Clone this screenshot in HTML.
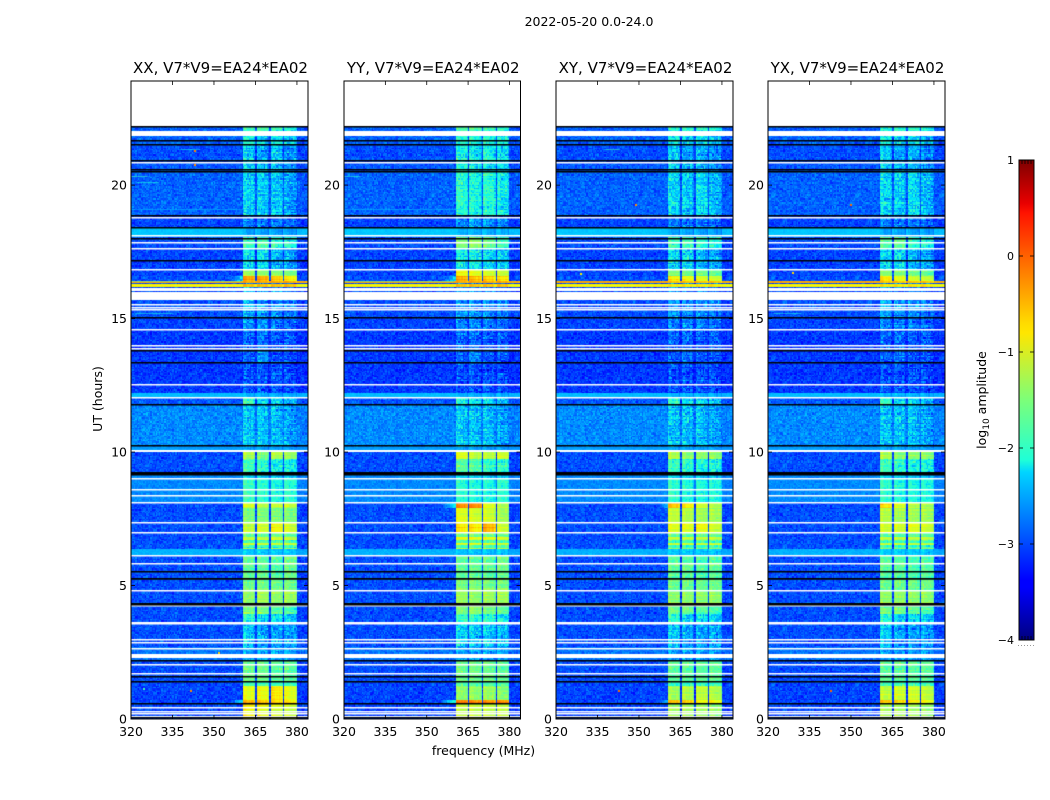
<!DOCTYPE html>
<html lang="en">
<head>
<meta charset="utf-8">
<title>2022-05-20 waterfall</title>
<style>
html,body{margin:0;padding:0;background:#fff;}
#stage{position:relative;width:1050px;height:800px;overflow:hidden;background:#fff;}
canvas{position:absolute;display:block;}
svg{position:absolute;left:0;top:0;}
text{font-family:"DejaVu Sans","Liberation Sans",sans-serif;fill:#000;}
</style>
</head>
<body>
<div id="stage">
<svg id="overlay" width="1050" height="800" viewBox="0 0 1050 800" xmlns="http://www.w3.org/2000/svg">
<defs><linearGradient id="jetGrad" x1="0" y1="1" x2="0" y2="0">
<stop offset="0" stop-color="#00007f"/><stop offset="0.11" stop-color="#0000ff"/><stop offset="0.125" stop-color="#0000ff"/><stop offset="0.35" stop-color="#00d5ff"/><stop offset="0.375" stop-color="#1fffd7"/><stop offset="0.5" stop-color="#7cff79"/><stop offset="0.64" stop-color="#ffe600"/><stop offset="0.66" stop-color="#ffdb00"/><stop offset="0.89" stop-color="#ff1300"/><stop offset="0.91" stop-color="#e80000"/><stop offset="1" stop-color="#7f0000"/>
</linearGradient></defs>
</svg>
</div>
<script>
const panelTitles = ["XX, V7*V9=EA24*EA02","YY, V7*V9=EA24*EA02","XY, V7*V9=EA24*EA02","YX, V7*V9=EA24*EA02"];
const freqTicks = [320,335,350,365,380];
const hourTicks = [0,5,10,15,20];
const colorTicks = [1,0,-1,-2,-3,-4];
const bandStartMHz = [360.5,365.5,370.5,375.5];
const bandEndMHz = [365,370,375,380];
const segTopHours = [22.2,21.85,21.5,20.9,20.5,18.85,18.4,18.05,17.6,16.85,16.6,16.4,16.35,16.3,16.18,15.3,15.05,14.57,13.8,13.35,12.2,12.05,11.8,10.22,10.05,9.75,9.24,9.0,8.1,7.9,7.37,6.96,6.8,6.7,6.6,6.5,6.4,6.33,6.1,5.27,4.82,4.26,3.95,3.62,2.7,2.2,1.4,1.25,0.72,0.56];
const backgroundLevel = [-2.9,-2.9,-3.0,-2.95,-2.9,-3.05,-2.4,-3.0,-3.05,-3.05,-3.0,-0.35,-3.0,-0.75,-3.0,-3.0,-3.05,-3.1,-3.1,-3.1,-2.45,-2.95,-2.7,-2.6,-3.0,-3.0,-2.7,-2.7,-3.0,-3.0,-3.0,-3.0,-3.0,-3.0,-3.0,-3.0,-3.0,-2.5,-3.0,-3.0,-3.0,-3.0,-3.0,-3.0,-2.8,-3.0,-3.05,-3.05,-3.05,-3.05];
const segNoise = [1,1,1,1,1,1,0.25,1,1,1,1,0.2,1,0.2,1,1,1,1,1,1,0.25,1,1,0.3,1,1,0.5,0.6,1,1,1,1,1,1,1,1,1,0.35,1,1,1,1,1,1,0.8,1,1,1,1,1];
const bandXX = [
[-1.9,-1.8,-2.0,-2.1],[-2.1,-2.4,-2.2,-2.4],[-2.4,-2.6,-2.4,-2.7],[-2.4,-2.5,-2.5,-2.7],[-2.35,-2.4,-2.4,-2.6],
[-2.8,-2.8,-2.8,-2.9],[-2.6,-2.6,-2.6,-2.6],[-1.9,-1.8,-2.0,-2.1],[-2.3,-2.3,-2.5,-2.6],[-1.3,-1.4,-1.4,-1.5],
[-0.3,-0.35,-0.5,-0.7],[-0.4,-0.4,-0.4,-0.4],[-2.8,-2.8,-2.8,-2.8],[-0.5,-0.5,-0.5,-0.5],[-2.5,-2.7,-2.7,-2.8],
[-2.6,-2.6,-2.7,-2.8],[-2.7,-2.7,-2.8,-2.9],[-2.9,-2.85,-2.95,-2.95],[-2.95,-2.65,-3.0,-3.0],[-3.0,-3.0,-3.0,-3.05],
[-2.5,-2.5,-2.5,-2.5],[-1.9,-2.3,-2.3,-2.5],[-2.4,-2.45,-2.45,-2.6],[-2.6,-2.6,-2.6,-2.6],[-1.2,-1.5,-1.2,-1.3],
[-1.9,-2.0,-2.2,-2.2],[-2.3,-2.3,-2.4,-2.4],[-1.9,-2.0,-2.1,-2.0],[-1.0,-1.2,-1.1,-1.1],[-1.5,-1.5,-1.5,-1.5],
[-1.1,-1.0,-0.8,-1.0],[-1.7,-1.7,-1.7,-1.7],[-1.0,-1.0,-0.9,-1.0],[-1.9,-1.9,-1.9,-1.9],[-1.0,-1.0,-1.0,-1.0],
[-1.9,-1.9,-1.9,-1.9],[-1.3,-1.3,-1.3,-1.3],[-2.4,-2.4,-2.4,-2.4],[-1.7,-1.7,-1.8,-1.6],[-1.6,-1.6,-1.6,-1.6],
[-1.4,-1.3,-1.4,-1.3],[-1.5,-1.5,-1.7,-1.8],[-2.0,-2.3,-2.3,-2.4],[-2.4,-2.6,-2.6,-2.6],[-2.6,-2.6,-2.6,-2.6],
[-1.6,-1.6,-1.7,-1.7],[-1.9,-1.9,-1.9,-1.9],[-0.9,-0.85,-0.7,-0.9],[-0.3,-0.4,-0.5,-0.6],[-0.8,-0.9,-1.0,-1.1]];
const bandYY = [
[-1.8,-1.8,-1.9,-2.0],[-2.0,-2.1,-2.1,-2.2],[-2.1,-2.2,-2.1,-2.3],[-2.1,-2.2,-2.2,-2.3],[-2.0,-2.1,-2.0,-2.2],
[-2.7,-2.6,-2.7,-2.8],[-2.5,-2.5,-2.5,-2.5],[-1.5,-1.4,-1.6,-1.9],[-2.2,-2.2,-2.3,-2.4],[-0.8,-0.9,-1.0,-1.1],
[-0.3,-0.4,-0.5,-0.6],[-0.4,-0.4,-0.4,-0.4],[-2.8,-2.8,-2.8,-2.8],[-0.5,-0.5,-0.5,-0.5],[-2.6,-2.7,-2.7,-2.8],
[-2.6,-2.6,-2.7,-2.8],[-2.75,-2.75,-2.8,-2.9],[-2.9,-2.9,-2.95,-2.95],[-2.95,-2.75,-3.0,-3.0],[-3.0,-3.0,-3.0,-3.05],
[-2.5,-2.5,-2.5,-2.5],[-2.0,-2.2,-2.3,-2.5],[-2.4,-2.45,-2.45,-2.6],[-2.6,-2.6,-2.6,-2.6],[-0.9,-1.1,-1.1,-1.0],
[-1.7,-1.8,-2.0,-2.0],[-2.3,-2.3,-2.4,-2.4],[-2.0,-2.1,-2.1,-2.0],[-0.2,-0.2,-0.9,-1.2],[-0.9,-1.0,-1.0,-1.3],
[-0.7,-0.7,-0.4,-1.0],[-1.6,-1.6,-1.6,-1.6],[-0.9,-0.9,-0.9,-1.0],[-1.8,-1.8,-1.8,-1.8],[-0.9,-0.9,-0.9,-1.0],
[-1.8,-1.8,-1.8,-1.8],[-1.2,-1.2,-1.2,-1.2],[-2.4,-2.4,-2.4,-2.4],[-1.7,-1.7,-1.7,-1.6],[-1.5,-1.5,-1.5,-1.5],
[-1.3,-1.4,-1.3,-1.3],[-1.5,-1.4,-1.5,-1.6],[-1.9,-2.0,-2.0,-2.2],[-2.3,-2.4,-2.4,-2.5],[-2.6,-2.6,-2.6,-2.6],
[-1.6,-1.6,-1.6,-1.7],[-1.8,-1.8,-1.8,-1.8],[-1.4,-1.4,-1.3,-1.4],[-0.1,-0.15,-0.2,-0.2],[-1.1,-1.1,-1.1,-1.1]];
const bandXY = [
[-2.0,-1.9,-2.0,-2.1],[-2.2,-2.4,-2.3,-2.5],[-2.4,-2.6,-2.5,-2.7],[-2.4,-2.5,-2.5,-2.7],[-2.3,-2.4,-2.3,-2.5],
[-2.8,-2.8,-2.8,-2.9],[-2.6,-2.6,-2.6,-2.6],[-1.9,-1.9,-2.0,-2.1],[-2.3,-2.3,-2.5,-2.6],[-1.5,-1.6,-1.6,-1.7],
[-0.7,-0.8,-0.9,-1.0],[-0.5,-0.5,-0.5,-0.5],[-2.8,-2.8,-2.8,-2.8],[-0.7,-0.7,-0.7,-0.7],[-2.6,-2.7,-2.7,-2.8],
[-2.6,-2.7,-2.7,-2.8],[-2.8,-2.8,-2.8,-2.9],[-2.9,-2.9,-2.95,-2.95],[-2.95,-2.85,-3.0,-3.0],[-3.0,-3.0,-3.0,-3.05],
[-2.5,-2.5,-2.5,-2.5],[-2.0,-2.3,-2.3,-2.5],[-2.4,-2.45,-2.45,-2.6],[-2.6,-2.6,-2.6,-2.6],[-1.2,-1.4,-1.4,-1.4],
[-1.9,-2.0,-2.1,-2.1],[-2.3,-2.3,-2.4,-2.4],[-2.0,-2.1,-2.1,-2.1],[-0.5,-0.7,-1.0,-1.2],[-1.1,-1.2,-1.3,-1.3],
[-0.9,-0.9,-0.8,-1.0],[-1.7,-1.7,-1.7,-1.7],[-1.1,-1.1,-1.1,-1.1],[-1.9,-1.9,-1.9,-1.9],[-1.1,-1.1,-1.1,-1.1],
[-1.9,-1.9,-1.9,-1.9],[-1.4,-1.4,-1.4,-1.4],[-2.4,-2.4,-2.4,-2.4],[-1.7,-1.7,-1.8,-1.7],[-1.6,-1.6,-1.6,-1.6],
[-1.4,-1.4,-1.4,-1.4],[-1.6,-1.6,-1.7,-1.8],[-2.0,-2.3,-2.3,-2.4],[-2.4,-2.6,-2.6,-2.6],[-2.6,-2.6,-2.6,-2.6],
[-1.7,-1.7,-1.7,-1.7],[-1.9,-1.9,-1.9,-1.9],[-1.3,-1.2,-1.1,-1.2],[-0.5,-0.6,-0.8,-0.8],[-1.3,-1.3,-1.3,-1.4]];
const bandYX = [
[-2.0,-1.9,-2.0,-2.1],[-2.2,-2.4,-2.3,-2.5],[-2.4,-2.6,-2.5,-2.7],[-2.4,-2.5,-2.5,-2.7],[-2.3,-2.4,-2.3,-2.5],
[-2.8,-2.8,-2.8,-2.9],[-2.6,-2.6,-2.6,-2.6],[-1.8,-1.7,-2.0,-2.1],[-2.3,-2.3,-2.5,-2.6],[-1.5,-1.5,-1.6,-1.7],
[-0.7,-0.9,-1.0,-1.1],[-0.5,-0.5,-0.5,-0.5],[-2.8,-2.8,-2.8,-2.8],[-0.7,-0.7,-0.7,-0.7],[-2.6,-2.7,-2.7,-2.8],
[-2.6,-2.7,-2.7,-2.8],[-2.8,-2.8,-2.8,-2.9],[-2.9,-2.9,-2.95,-2.95],[-2.95,-2.85,-3.0,-3.0],[-3.0,-3.0,-3.0,-3.05],
[-2.5,-2.5,-2.5,-2.5],[-2.0,-2.3,-2.3,-2.5],[-2.4,-2.45,-2.45,-2.6],[-2.6,-2.6,-2.6,-2.6],[-1.2,-1.4,-1.4,-1.4],
[-1.9,-2.0,-2.1,-2.1],[-2.3,-2.3,-2.4,-2.4],[-2.0,-2.1,-2.1,-2.1],[-0.6,-0.9,-1.1,-1.2],[-1.2,-1.3,-1.3,-1.3],
[-1.0,-1.0,-0.9,-1.0],[-1.7,-1.7,-1.7,-1.7],[-1.1,-1.1,-1.1,-1.1],[-1.9,-1.9,-1.9,-1.9],[-1.1,-1.1,-1.1,-1.1],
[-1.9,-1.9,-1.9,-1.9],[-1.4,-1.4,-1.4,-1.4],[-2.4,-2.4,-2.4,-2.4],[-1.7,-1.7,-1.8,-1.7],[-1.6,-1.6,-1.6,-1.6],
[-1.4,-1.4,-1.4,-1.4],[-1.6,-1.6,-1.7,-1.8],[-2.0,-2.3,-2.3,-2.4],[-2.4,-2.6,-2.6,-2.6],[-2.6,-2.6,-2.6,-2.6],
[-1.7,-1.7,-1.7,-1.7],[-1.9,-1.9,-1.9,-1.9],[-1.1,-1.0,-1.0,-1.1],[-0.6,-0.7,-0.8,-0.9],[-1.3,-1.3,-1.3,-1.4]];
const flagWhiteSpans = [[22.03,21.84],[16.16,16.03],[16.01,15.69],[2.45,2.28],[10.07,10.0]];
const flagWhiteHours = [20.85,18.76,18.10,17.83,17.60,16.84,15.53,15.42,15.32,14.57,13.98,13.88,12.54,12.02,9.0,8.57,8.36,8.10,7.37,6.96,6.10,5.83,4.82,4.26,3.62,3.55,2.96,2.87,2.62,2.03,1.70,0.44,0.29,0.21,0.09];
const flagBlackHours = [22.2,21.65,21.52,20.93,20.59,20.49,18.85,18.39,17.99,17.18,15.04,13.78,13.34,11.79,10.22,9.24,9.18,9.14,5.52,5.27,5.24,4.31,4.29,2.18,1.60,1.40,0.56,0.03];
const hotSpots = [[0,342.8,21.3,-0.1],[0,342.8,20.8,-0.2],[0,351.4,2.5,-0.6],[0,324.4,1.15,-1.9],[0,341.5,1.1,-0.2],[2,342.4,1.08,0.0],[2,348.5,19.3,-0.2],[3,349.6,19.3,0.0],[3,342.4,1.08,0.0],[3,328.5,16.75,-0.6],[2,328.5,16.7,-0.7]];
const streaks = [[0,320,326,20.35,-1.9],[0,322,330,20.1,-2.1],[0,338,345,21.35,-2.1],[1,341,345,20.85,-1.5],[1,320,326,20.35,-2.0],[2,338,343,21.35,-1.8],[0,320,362,19.1,-2.4],[1,320,362,19.1,-2.4],[0,320,360,16.42,-1.9],[1,320,360,16.42,-2.0],[0,322,335,15.2,-2.1],[3,322,332,15.2,-2.1]];
const grain = [0.2,-0.5,0.7,-0.1,-0.8,0.4,0.9,-0.3,0.1,-0.9,0.6,-0.6,0.3,-0.2,0.8,-0.7,0.5,-0.4,1.0,0.0,-1.0,0.35,-0.15,0.65,-0.75,0.15,-0.45,0.85,-0.25,0.55,-0.85,0.05,0.75,-0.55,0.25,-0.35,0.95,-0.65,0.45,-0.05,-0.95,0.6,-0.2,0.3,-0.7,0.8,-0.4,0.1,0.5,-0.6,0.2,-0.9,0.7,-0.3,0.4,-0.1,0.9,-0.8,0.0,0.55,-0.5];
const rowStripe = [0.1,-0.2,0.3,0.0,-0.1,0.4,-0.3,0.2,-0.1,0.0,0.5,-0.2,0.1,-0.4,0.2,0.0,-0.1,0.3,-0.2,0.1,-0.3,0.2,0.0];
const chanProfile = [0.1,0.12,0.05,-0.05,0.0,-0.08,0.04,-0.05,-0.2];
const panelBands = [bandXX,bandYY,bandXY,bandYX];

const dataEndHour = 22.2, rowStep = 0.05, chanStep = 0.5, freqMin = 320, freqMax = 384, hourMax = 23.9;
const layout = {left:[131,344,556,768], right:[308,520.5,733,945], top:81, bottom:719, barL:1019, barR:1034, barT:160, barB:640};
const svg = document.getElementById('overlay');
const stage = document.getElementById('stage');
const NS = 'http://www.w3.org/2000/svg';

function xScale(p,f){ return layout.left[p] + (f-freqMin)/(freqMax-freqMin)*(layout.right[p]-layout.left[p]); }
function yScale(h){ return layout.bottom - h/hourMax*(layout.bottom-layout.top); }
function cScale(v){ return layout.barB - (v+4)/5*(layout.barB-layout.barT); }
function jet(v){
  const t = Math.max(0,Math.min(1,(v+4)/5));
  const seg = (x,pts)=>{ for(let i=1;i<pts.length;i++){ if(x<=pts[i][0]){ const a=pts[i-1],b=pts[i]; return a[1]+(b[1]-a[1])*(x-a[0])/(b[0]-a[0]); } } return pts[pts.length-1][1]; };
  const r = seg(t,[[0,0],[0.35,0],[0.66,1],[0.89,1],[1,0.5]]);
  const g = seg(t,[[0,0],[0.125,0],[0.375,1],[0.64,1],[0.91,0],[1,0]]);
  const b = seg(t,[[0,0.5],[0.11,1],[0.34,1],[0.65,0],[1,0]]);
  return 'rgb('+Math.round(r*255)+','+Math.round(g*255)+','+Math.round(b*255)+')';
}
function mk(tag,attrs,parent){
  const el = document.createElementNS(NS,tag);
  for(const k in attrs) el.setAttribute(k,attrs[k]);
  (parent||svg).appendChild(el);
  return el;
}
function segmentAt(h){
  for(let i=segTopHours.length-1;i>=0;i--){ if(h<=segTopHours[i]) return i; }
  return 0;
}
function bandAt(f){
  for(let b=0;b<bandStartMHz.length;b++){ if(f>=bandStartMHz[b] && f<bandEndMHz[b]) return b; }
  return -1;
}
function drawWaterfall(p){
  const W = Math.ceil(layout.right[p]-layout.left[p]), H = layout.bottom-layout.top;
  const cv = document.createElement('canvas');
  cv.width = W; cv.height = H;
  cv.style.left = layout.left[p]+'px'; cv.style.top = layout.top+'px';
  
  
  stage.insertBefore(cv, svg);
  const c = cv.getContext('2d');
  const L = layout.left[p], T = layout.top;
  const bands = panelBands[p];
  const nRows = Math.round(dataEndHour/rowStep);
  const nChan = Math.round((freqMax-freqMin)/chanStep);
  for(let r=0;r<nRows;r++){
    const h0 = r*rowStep, h1 = h0+rowStep, s = segmentAt(h0+rowStep/2);
    const yTop = Math.round(yScale(h1))-T, yBot = Math.round(yScale(h0))-T;
    const stripe = rowStripe[(r+p*5)%rowStripe.length];
    const n = segNoise[s];
    for(let ch=0;ch<nChan;ch++){
      const f = freqMin+ch*chanStep, fc = f+chanStep/2;
      const g = (grain[(ch*17+r*r*7+p*11)%grain.length]+grain[(ch*ch*3+r*23+ch*r)%grain.length])*0.7;
      const b = bandAt(fc);
      let v;
      if(b>=0){
        const level = bands[s][b];
        const amp = Math.max(0.06,Math.min(0.38,(-level-0.7)*0.24));
        const pos = Math.min(chanProfile.length-1,Math.floor((fc-bandStartMHz[b])/chanStep));
        v = level + n*(g*amp + stripe*0.35) + chanProfile[pos];
      } else {
        let base = backgroundLevel[s];
        if(fc>380) base -= 0.05;
        if(fc>360 && fc<380 && backgroundLevel[s]<-2.6) base = Math.max(base-0.1,-3.3);
        if(fc>354 && fc<360.5 && bands[s][0]>-0.6) base = Math.max(base,bands[s][0]-2.0-(360.5-fc)*0.15);
        v = base + n*(g*0.25+stripe*0.06);
      }
      c.fillStyle = jet(v);
      const x0 = Math.round(xScale(p,f))-L, x1 = Math.round(xScale(p,f+chanStep))-L;
      c.fillRect(x0,yTop,Math.max(1,x1-x0),Math.max(1,yBot-yTop));
    }
  }
  streaks.forEach(st=>{
    if(st[0]!==p) return;
    const x0 = xScale(p,st[1])-L, x1 = xScale(p,st[2])-L;
    c.fillStyle = jet(st[4]);
    c.globalAlpha = 0.55;
    c.fillRect(x0,Math.round(yScale(st[3]))-T,x1-x0,1);
    c.globalAlpha = 1;
  });
  hotSpots.forEach(hs=>{
    if(hs[0]!==p) return;
    c.fillStyle = jet(hs[3]);
    c.fillRect(Math.round(xScale(p,hs[1]))-L,Math.round(yScale(hs[2]))-T,2,2);
  });
  c.fillStyle = '#fff';
  c.fillRect(0,0,W,Math.max(0,Math.round(yScale(dataEndHour))-T));
  flagWhiteSpans.forEach(sp=>{
    const a = Math.round(yScale(sp[0])), z = Math.round(yScale(sp[1]));
    c.fillRect(0,a-T,W,z-a);
  });
  flagWhiteHours.forEach(hr=>{
    c.fillRect(0,Math.round(yScale(hr)-0.75)-T,W,1.5);
  });
  c.fillStyle = '#000';
  flagBlackHours.forEach(hr=>{
    c.fillRect(0,Math.round(yScale(hr)-0.75)-T,W,1.5);
  });
}
function drawPanelAxes(p){
  const g = mk('g',{});
  
  
  const L = layout.left[p], R = layout.right[p], T = layout.top, B = layout.bottom;
  const frame = mk('rect',{x:L,y:T,width:R-L,height:B-T,fill:'none',stroke:'#000','stroke-width':1},g);
  
  
  const title = mk('text',{x:(L+R)/2+1,y:73,'text-anchor':'middle','font-size':15},g);
  title.textContent = panelTitles[p];
  
  
  freqTicks.forEach(fr=>{
    const x = xScale(p,fr);
    const t1 = mk('line',{x1:x,x2:x,y1:B,y2:B-4,stroke:'#000','stroke-width':0.8},g);
    
    
    const t2 = mk('line',{x1:x,x2:x,y1:T,y2:T+4,stroke:'#000','stroke-width':0.8},g);
    
    
    const lb = mk('text',{x:x,y:736,'text-anchor':'middle','font-size':12.5},g);
    lb.textContent = fr;
    
    
  });
  hourTicks.forEach(hr=>{
    const y = yScale(hr);
    const t1 = mk('line',{x1:L,x2:L+4,y1:y,y2:y,stroke:'#000','stroke-width':0.8},g);
    
    
    const t2 = mk('line',{x1:R,x2:R-4,y1:y,y2:y,stroke:'#000','stroke-width':0.8},g);
    
    
    const lb = mk('text',{x:L-4,y:y+4.5,'text-anchor':'end','font-size':12.5},g);
    lb.textContent = hr;
    
    
  });
}
function drawColorbar(){
  const g = mk('g',{});
  
  
  const {barL:l,barR:r,barT:t,barB:b} = layout;
  const ramp = mk('rect',{x:l,y:t,width:r-l,height:b-t,fill:'url(#jetGrad)',stroke:'#000','stroke-width':1},g);
  
  
  colorTicks.forEach(v=>{
    const y = cScale(v);
    const t1 = mk('line',{x1:l,x2:l+4,y1:y,y2:y,stroke:'#000','stroke-width':0.8},g);
    
    
    const t2 = mk('line',{x1:r,x2:r-4,y1:y,y2:y,stroke:'#000','stroke-width':0.8},g);
    
    
    const lb = mk('text',{x:l-5,y:y+4,'text-anchor':'end','font-size':11},g);
    lb.textContent = String(v).replace('-','\u2212');
    
    
  });
  [0.2,0.4,0.6,0.8].forEach(fr=>{
    const x = l+fr*(r-l);
    const a = mk('line',{x1:x,x2:x,y1:t,y2:t+4,stroke:'#000','stroke-width':0.8},g);
    
    
    const c = mk('line',{x1:x,x2:x,y1:b,y2:b-4,stroke:'#000','stroke-width':0.8},g);
    
    
  });
  [0,0.2,0.4,0.6,0.8,1].forEach(fr=>{
    const d = mk('rect',{x:l-1+fr*(r-l),y:645,width:1,height:1,fill:'#999'},g);
    
    
  });
}
function drawLabels(){
  const main = mk('text',{x:589,y:26,'text-anchor':'middle','font-size':12.5});
  main.textContent = '2022-05-20 0.0-24.0';
  
  
  const xl = mk('text',{x:483.5,y:755,'text-anchor':'middle','font-size':12.5});
  xl.textContent = 'frequency (MHz)';
  
  
  const yl = mk('text',{x:0,y:0,'text-anchor':'middle','font-size':12.5,transform:'translate(102,399) rotate(-90)'});
  yl.textContent = 'UT (hours)';
  
  
  const cl = mk('text',{x:0,y:0,'text-anchor':'middle','font-size':12.5,transform:'translate(986,400) rotate(-90)'});
  
  
  const a = mk('tspan',{},cl); a.textContent = 'log';
  const s = mk('tspan',{dy:3,'font-size':9},cl); s.textContent = '10';
  const e = mk('tspan',{dy:-3},cl); e.textContent = ' amplitude';
}
for(let p=0;p<panelTitles.length;p++){ drawWaterfall(p); drawPanelAxes(p); }
drawColorbar();
drawLabels();
</script>
</body>
</html>
